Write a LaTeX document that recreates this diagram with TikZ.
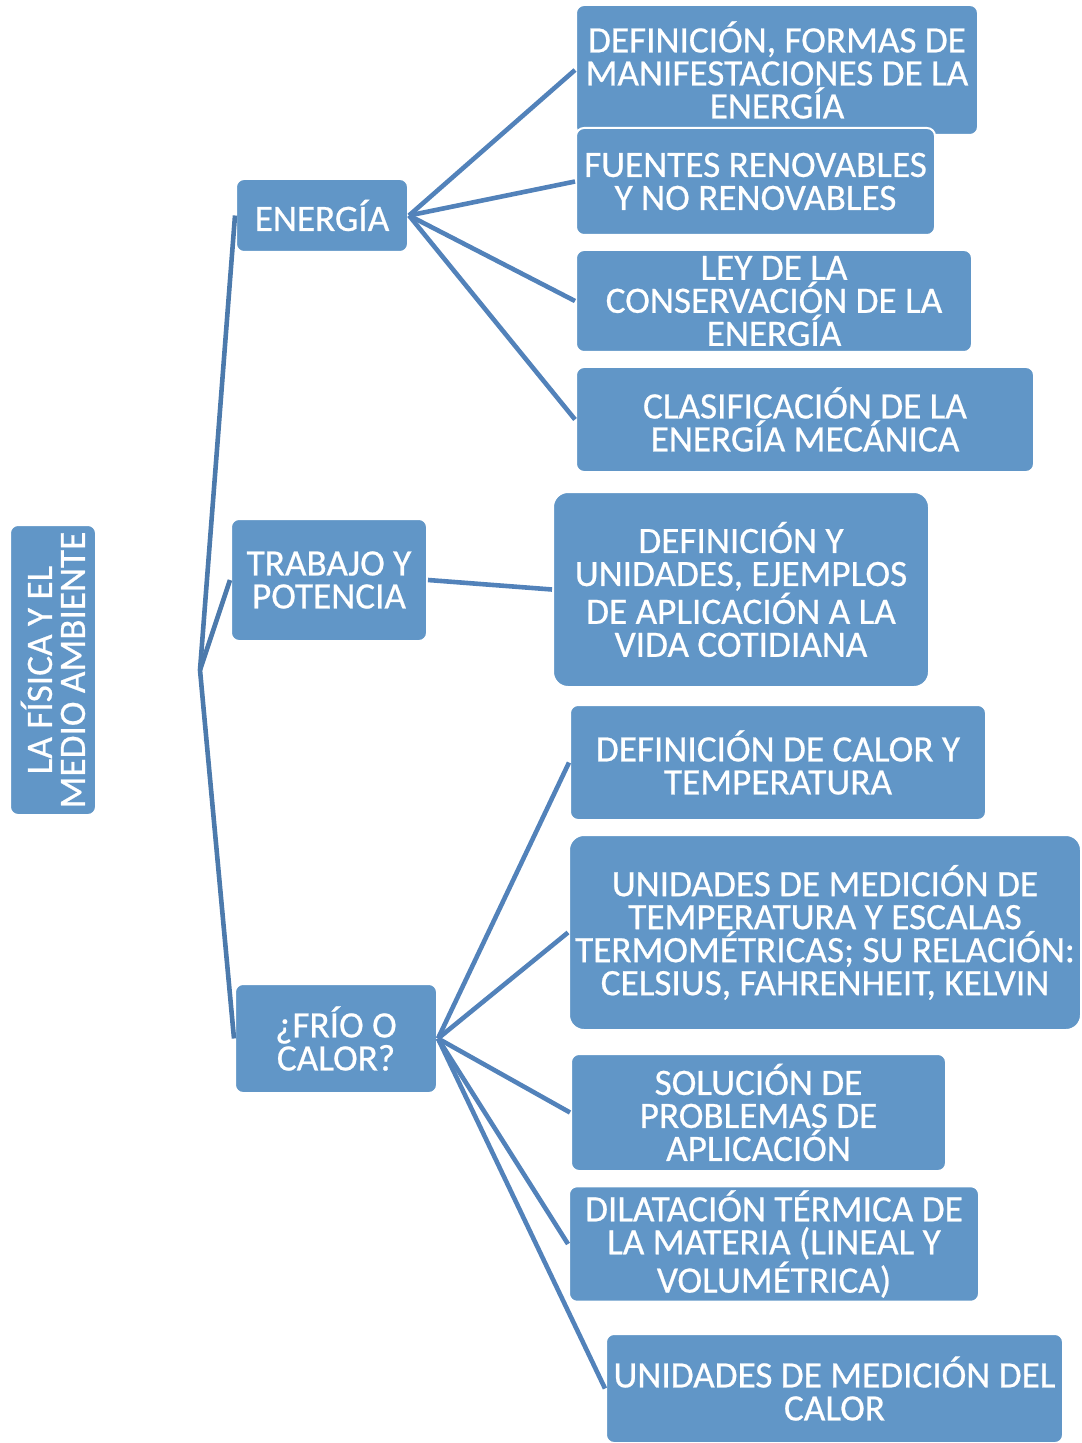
\documentclass[tikz,border=0pt]{standalone}
\usepackage{fontspec}
\setmainfont{Carlito}
\newfontfamily\boxfont{Carlito}[FakeBold=0.6]
\usetikzlibrary{positioning}

\definecolor{boxblue}{RGB}{97,150,199}
\definecolor{lineblue}{RGB}{82,130,186}
\definecolor{forkblue}{RGB}{76,122,172}

\begin{document}
\begin{tikzpicture}[
    x=0.5pt, y=-0.5pt,
    box/.style={rectangle, rounded corners=4pt, fill=boxblue, draw=white, line width=1pt,
        text=white, align=center, font=\boxfont\fontsize{18.6pt}{16.5pt}\selectfont, inner sep=2pt},
    bigbox/.style={box, rounded corners=7.5pt},
    link/.style={draw=lineblue, line width=2.3pt},
    forklink/.style={draw=forkblue, line width=2.3pt}
]
    \useasboundingbox (0,0) rectangle (1081,1443);

    % Root
    \node[box, rotate=90, minimum width=145pt, minimum height=43pt] (root) at (53,670)
        {LA FÍSICA Y EL\\MEDIO AMBIENTE};
    \coordinate (fork) at (200,670);

    % Second level
    \node[box, minimum width=86pt, minimum height=36.5pt] (energia) at (322,215.5) {ENERGÍA};
    \node[box, minimum width=98pt, minimum height=61pt] (trabajo) at (329,580) {TRABAJO Y\\POTENCIA};
    \node[box, minimum width=101pt, minimum height=54.5pt] (calor) at (336,1038.5) {¿FRÍO O\\CALOR?};

    % Energia
    \node[box, minimum width=201pt, minimum height=65pt] (ener1) at (777,70)
        {DEFINICIÓN, FORMAS DE\\MANIFESTACIONES DE LA\\ENERGÍA};
    \node[box, minimum width=179.5pt, minimum height=53.5pt] (ener2) at (755.5,181.5)
        {FUENTES RENOVABLES\\Y NO RENOVABLES};
    \node[box, minimum width=198pt, minimum height=51pt] (ener3) at (774,301)
        {LEY DE LA\\CONSERVACIÓN DE LA\\ENERGÍA};
    \node[box, minimum width=229pt, minimum height=52.5pt] (ener4) at (805,419.5)
        {CLASIFICACIÓN DE LA\\ENERGÍA MECÁNICA};

    % Trabajo
    \node[bigbox, minimum width=188pt, minimum height=97.5pt] (trab1) at (741,589.5)
        {DEFINICIÓN Y\\UNIDADES, EJEMPLOS\\DE APLICACIÓN A LA\\VIDA COTIDIANA};

    % Calor
    \node[box, minimum width=208pt, minimum height=57.5pt] (cal1) at (778,762.5)
        {DEFINICIÓN DE CALOR Y\\TEMPERATURA};
    \node[bigbox, minimum width=256pt, minimum height=97.5pt] (cal2) at (825,932.5)
        {UNIDADES DE MEDICIÓN DE\\TEMPERATURA Y ESCALAS\\TERMOMÉTRICAS; SU RELACIÓN:\\CELSIUS, FAHRENHEIT, KELVIN};
    \node[box, minimum width=187.5pt, minimum height=58.5pt] (cal3) at (758.5,1112.5)
        {SOLUCIÓN DE\\PROBLEMAS DE\\APLICACIÓN};
    \node[box, minimum width=205pt, minimum height=55pt] (cal4) at (774,1244)
        {DILATACIÓN TÉRMICA DE\\LA MATERIA (LINEAL Y\\VOLUMÉTRICA)};
    \node[box, minimum width=228.5pt, minimum height=54.5pt] (cal5) at (834.5,1388.5)
        {UNIDADES DE MEDICIÓN DEL\\CALOR};

    % Connectors
    \draw[forklink] (fork) -- (energia.west);
    \draw[forklink] (fork) -- (trabajo.west);
    \draw[forklink] (fork) -- (calor.west);

    \draw[link] (energia.east) -- (ener1.west);
    \draw[link] (energia.east) -- (ener2.west);
    \draw[link] (energia.east) -- (ener3.west);
    \draw[link] (energia.east) -- (ener4.west);

    \draw[link] (trabajo.east) -- (trab1.west);

    \draw[link] (calor.east) -- (cal1.west);
    \draw[link] (calor.east) -- (cal2.west);
    \draw[link] (calor.east) -- (cal3.west);
    \draw[link] (calor.east) -- (cal4.west);
    \draw[link] (calor.east) -- (cal5.west);

\end{tikzpicture}
\end{document}
